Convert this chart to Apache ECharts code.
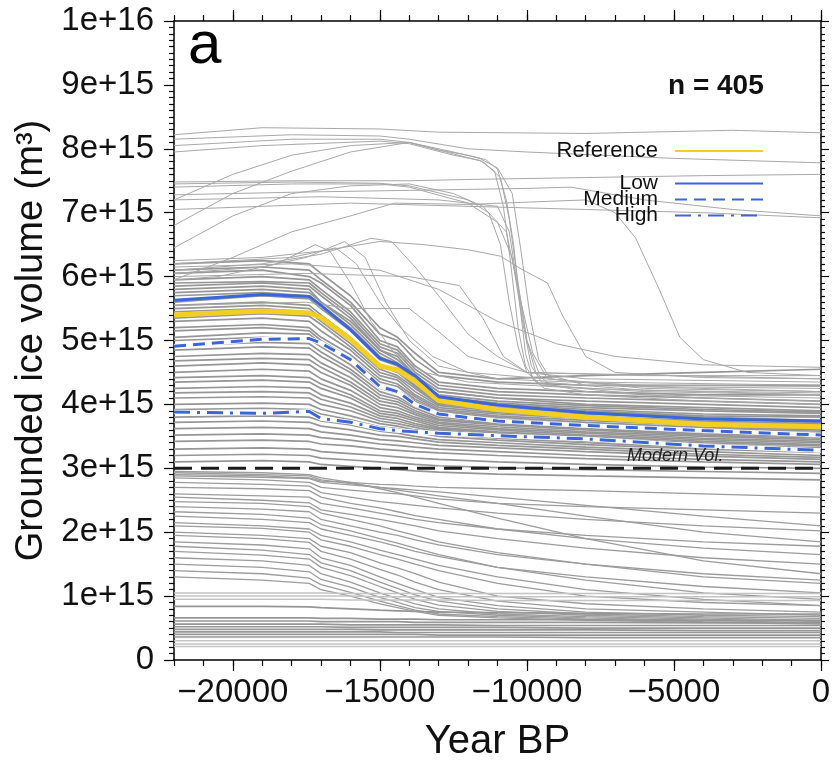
<!DOCTYPE html>
<html><head><meta charset="utf-8">
<script src="https://cdn.jsdelivr.net/npm/echarts@6/dist/echarts.min.js"></script>
<style>html,body{margin:0;padding:0;background:#fff}#c{width:834px;height:767px}</style>
</head><body><div id="c"></div>
<script>
// ---------- DATA (volumes in units of 1e15 m^3) ----------
const years = [-22000, -19000, -17400, -17000, -16000, -15000, -14400, -13800, -13000, -11000, -8000, -4000, 0];

const referenceRun = [5.40, 5.46, 5.43, 5.36, 5.02, 4.60, 4.54, 4.36, 4.06, 3.92, 3.80, 3.69, 3.65];
const lowRun       = [5.63, 5.72, 5.69, 5.55, 5.17, 4.72, 4.63, 4.45, 4.12, 3.99, 3.87, 3.77, 3.74];
const mediumRun    = [4.91, 5.02, 5.03, 4.96, 4.70, 4.28, 4.20, 4.00, 3.85, 3.74, 3.67, 3.59, 3.52];
const highRun      = [3.88, 3.86, 3.89, 3.78, 3.72, 3.62, 3.59, 3.57, 3.55, 3.51, 3.46, 3.35, 3.28];
const modernVol = 3.0;

// dense ensemble band (3–6.2e15 at LGM)
const bandRuns = [
 [6.20,6.25,6.20,6.05,5.70,5.20,5.05,4.80,4.50,4.40,4.45,4.50,4.55],
 [6.10,6.15,6.10,5.95,5.60,5.10,5.00,4.70,4.45,4.35,4.30,4.30,4.30],
 [6.05,6.10,6.00,5.90,5.55,5.00,4.90,4.60,4.35,4.25,4.20,4.15,4.15],
 [5.95,6.00,5.95,5.80,5.45,4.95,4.85,4.55,4.30,4.20,4.15,4.10,4.05],
 [5.90,5.92,5.90,5.75,5.40,4.90,4.80,4.50,4.25,4.15,4.10,4.05,4.00],
 [5.85,5.90,5.85,5.70,5.35,4.85,4.75,4.45,4.20,4.10,4.05,4.00,3.95],
 [5.80,5.85,5.80,5.60,5.30,4.85,4.70,4.45,4.20,4.10,4.00,3.95,3.90],
 [5.75,5.80,5.75,5.60,5.25,4.80,4.65,4.40,4.15,4.05,3.98,3.92,3.88],
 [5.70,5.75,5.70,5.55,5.20,4.75,4.62,4.38,4.12,4.02,3.95,3.90,3.86],
 [5.60,5.70,5.65,5.50,5.15,4.70,4.60,4.35,4.10,4.00,3.92,3.85,3.82],
 [5.55,5.60,5.55,5.40,5.05,4.62,4.52,4.30,4.05,3.98,3.90,3.82,3.80],
 [5.50,5.55,5.50,5.35,5.00,4.60,4.50,4.28,4.02,3.95,3.88,3.80,3.75],
 [5.45,5.50,5.45,5.30,4.95,4.55,4.45,4.25,4.00,3.92,3.85,3.78,3.72],
 [5.35,5.42,5.38,5.25,4.90,4.50,4.42,4.20,3.98,3.90,3.82,3.74,3.70],
 [5.30,5.35,5.30,5.15,4.85,4.45,4.38,4.15,3.95,3.87,3.80,3.72,3.68],
 [5.20,5.25,5.20,5.05,4.78,4.40,4.32,4.12,3.92,3.85,3.78,3.70,3.65],
 [5.15,5.20,5.15,5.00,4.72,4.35,4.28,4.08,3.90,3.82,3.75,3.67,3.62],
 [5.05,5.12,5.10,4.95,4.68,4.30,4.22,4.05,3.87,3.80,3.72,3.64,3.60],
 [5.00,5.05,5.02,4.90,4.62,4.25,4.18,4.00,3.84,3.77,3.70,3.62,3.58],
 [4.92,4.97,4.95,4.82,4.55,4.20,4.12,3.97,3.82,3.74,3.68,3.60,3.55],
 [4.85,4.90,4.88,4.75,4.50,4.15,4.08,3.94,3.80,3.72,3.65,3.57,3.52],
 [4.75,4.80,4.78,4.65,4.42,4.10,4.04,3.90,3.77,3.70,3.62,3.54,3.50],
 [4.68,4.72,4.70,4.58,4.35,4.05,4.00,3.87,3.75,3.68,3.60,3.52,3.47],
 [4.60,4.65,4.62,4.50,4.30,4.00,3.95,3.84,3.72,3.65,3.57,3.50,3.45],
 [4.50,4.55,4.52,4.40,4.22,3.95,3.90,3.80,3.70,3.62,3.55,3.47,3.42],
 [4.42,4.45,4.42,4.32,4.15,3.90,3.86,3.77,3.67,3.60,3.52,3.45,3.40],
 [4.35,4.38,4.35,4.25,4.10,3.86,3.82,3.74,3.64,3.57,3.50,3.42,3.37],
 [4.25,4.28,4.26,4.15,4.02,3.82,3.78,3.70,3.62,3.55,3.47,3.40,3.35],
 [4.18,4.20,4.18,4.08,3.96,3.78,3.74,3.67,3.60,3.52,3.45,3.37,3.32],
 [4.10,4.12,4.10,4.00,3.90,3.74,3.70,3.64,3.57,3.50,3.42,3.35,3.30],
 [4.00,4.02,4.00,3.92,3.82,3.70,3.66,3.60,3.54,3.47,3.40,3.32,3.27],
 [3.92,3.94,3.92,3.85,3.76,3.65,3.62,3.57,3.50,3.44,3.37,3.30,3.25],
 [3.80,3.82,3.80,3.74,3.68,3.58,3.55,3.50,3.45,3.40,3.33,3.26,3.20],
 [3.72,3.74,3.72,3.66,3.60,3.52,3.50,3.46,3.41,3.36,3.30,3.22,3.17],
 [3.62,3.64,3.62,3.57,3.52,3.45,3.43,3.40,3.36,3.32,3.26,3.19,3.14],
 [3.52,3.54,3.52,3.48,3.44,3.38,3.36,3.33,3.30,3.26,3.20,3.14,3.10],
 [3.42,3.44,3.42,3.38,3.35,3.30,3.28,3.26,3.24,3.20,3.15,3.10,3.06],
 [3.30,3.32,3.30,3.26,3.23,3.20,3.18,3.16,3.14,3.10,3.06,3.02,3.00],
 [3.20,3.22,3.20,3.16,3.13,3.10,3.08,3.06,3.04,3.01,2.98,2.95,2.92],
 [3.10,3.12,3.10,3.06,3.03,3.00,2.98,2.96,2.94,2.91,2.88,2.85,2.82]
];

// runs below modern volume
const lowerRuns = [
 [2.90,2.88,2.85,2.80,2.78,2.75,2.74,2.72,2.70,2.68,2.65,2.60,2.55],
 [2.85,2.82,2.78,2.70,2.66,2.62,2.60,2.57,2.52,2.45,2.40,2.35,2.30],
 [2.78,2.75,2.72,2.62,2.55,2.48,2.45,2.42,2.38,2.30,2.20,2.10,2.02],
 [2.70,2.68,2.65,2.55,2.45,2.38,2.32,2.26,2.20,2.05,1.90,1.75,1.65],
 [2.60,2.57,2.55,2.45,2.38,2.30,2.25,2.20,2.15,2.05,1.95,1.85,1.78],
 [2.55,2.50,2.46,2.35,2.28,2.20,2.15,2.10,2.02,1.90,1.75,1.60,1.50],
 [2.48,2.45,2.40,2.30,2.20,2.10,2.02,1.95,1.85,1.68,1.50,1.30,1.20],
 [2.40,2.36,2.32,2.20,2.10,2.00,1.95,1.88,1.80,1.65,1.50,1.35,1.25],
 [2.32,2.28,2.22,2.12,2.02,1.90,1.83,1.75,1.65,1.45,1.25,1.05,0.95],
 [2.25,2.20,2.15,2.05,1.95,1.85,1.78,1.70,1.62,1.45,1.30,1.15,1.05],
 [2.15,2.10,2.05,1.95,1.85,1.72,1.65,1.58,1.48,1.30,1.10,0.95,0.85],
 [2.10,2.06,2.00,1.88,1.78,1.65,1.58,1.50,1.40,1.20,1.00,0.90,0.85],
 [2.00,1.95,1.90,1.78,1.68,1.52,1.44,1.35,1.22,1.00,0.88,0.80,0.75],
 [1.95,1.90,1.84,1.70,1.58,1.42,1.33,1.22,1.10,0.92,0.80,0.75,0.70],
 [1.85,1.80,1.74,1.60,1.48,1.30,1.20,1.10,0.98,0.85,0.75,0.70,0.68],
 [1.78,1.72,1.65,1.52,1.40,1.22,1.12,1.02,0.92,0.80,0.72,0.68,0.65],
 [1.70,1.64,1.58,1.45,1.32,1.15,1.05,0.95,0.86,0.76,0.70,0.66,0.62],
 [1.60,1.55,1.48,1.35,1.22,1.05,0.96,0.88,0.80,0.72,0.68,0.64,0.60],
 [1.50,1.45,1.38,1.26,1.14,0.98,0.90,0.82,0.76,0.70,0.66,0.62,0.58],
 [1.40,1.35,1.28,1.18,1.06,0.92,0.85,0.78,0.72,0.68,0.64,0.60,0.57],
 [1.30,1.25,1.20,1.10,1.00,0.88,0.82,0.76,0.70,0.66,0.62,0.59,0.56],
 [2.95,2.93,2.90,2.85,2.78,2.68,2.62,2.55,2.45,2.22,1.90,1.55,1.35],
 [2.93,2.90,2.88,2.82,2.76,2.70,2.66,2.62,2.57,2.45,2.25,2.00,1.85],
 [2.88,2.86,2.84,2.78,2.74,2.70,2.68,2.66,2.63,2.55,2.42,2.25,2.10]
];

// near-flat runs of the smallest ice sheets
const floorRuns = [
 [1.05,1.05,1.05,1.05,1.04,1.04,1.04,1.04,1.04,1.04,1.04,1.04,1.04],
 [1.00,1.00,1.00,1.00,1.00,0.99,0.99,0.99,0.99,0.99,0.99,0.99,0.99],
 [0.95,0.95,0.95,0.95,0.94,0.94,0.94,0.94,0.94,0.93,0.93,0.93,0.93],
 [0.84,0.84,0.83,0.82,0.80,0.78,0.77,0.76,0.75,0.74,0.73,0.72,0.72],
 [0.66,0.66,0.66,0.65,0.65,0.64,0.64,0.64,0.63,0.63,0.63,0.62,0.62],
 [0.61,0.61,0.61,0.60,0.60,0.60,0.60,0.59,0.59,0.59,0.59,0.58,0.58],
 [0.56,0.56,0.56,0.56,0.55,0.55,0.55,0.55,0.55,0.54,0.54,0.54,0.54],
 [0.52,0.52,0.52,0.52,0.51,0.51,0.51,0.51,0.51,0.51,0.50,0.50,0.50],
 [0.48,0.48,0.48,0.48,0.48,0.47,0.47,0.47,0.47,0.47,0.47,0.46,0.46],
 [0.44,0.44,0.44,0.44,0.44,0.44,0.43,0.43,0.43,0.43,0.43,0.43,0.43],
 [0.40,0.40,0.40,0.40,0.40,0.40,0.40,0.40,0.39,0.39,0.39,0.39,0.39],
 [0.36,0.36,0.36,0.36,0.36,0.36,0.36,0.36,0.36,0.36,0.35,0.35,0.35],
 [0.30,0.30,0.30,0.30,0.30,0.30,0.30,0.30,0.30,0.30,0.30,0.30,0.30],
 [0.25,0.25,0.25,0.25,0.25,0.25,0.25,0.25,0.25,0.25,0.25,0.25,0.25],
 [0.21,0.21,0.21,0.21,0.21,0.21,0.21,0.21,0.21,0.21,0.21,0.21,0.21]
];

// large-ice runs and collapse runs, as [year, volume] pairs
const specialRuns = [
 [[-22000,8.22],[-19000,8.33],[-15000,8.31],[-13000,8.26],[-8000,8.24],[-3000,8.29],[0,8.25]],
 [[-22000,8.15],[-18000,8.22],[-15000,8.20],[-14000,8.15],[-12000,8.00],[-10000,7.95],[-5000,7.85],[0,7.78]],
 [[-22000,8.05],[-18000,8.15],[-15000,8.15],[-14000,8.10],[-13000,7.98],[-12000,7.90],[-11400,7.83],[-11000,7.68],[-10700,7.20],[-10450,6.50],[-10250,5.60],[-10050,4.80],[-9800,4.40],[-9400,4.25],[-8000,4.15],[-4000,4.05],[0,4.00]],
 [[-22000,7.95],[-19000,8.05],[-15000,8.12],[-14000,8.08],[-12500,7.90],[-11600,7.82],[-11100,7.65],[-10800,7.10],[-10550,6.20],[-10300,5.20],[-10050,4.60],[-9700,4.35],[-8000,4.20],[-4000,4.10],[0,4.05]],
 [[-22000,7.20],[-20000,7.60],[-18000,7.90],[-16000,8.05],[-14000,8.10],[-12500,7.92],[-11500,7.80],[-10900,7.55],[-10600,6.90],[-10300,5.90],[-10000,5.00],[-9700,4.50],[-9200,4.30],[-6000,4.15],[0,4.10]],
 [[-22000,6.80],[-20000,7.30],[-18000,7.65],[-16000,7.95],[-14000,8.10],[-12500,7.95],[-11600,7.85],[-11000,7.70],[-10500,7.30],[-10200,6.40],[-9900,5.40],[-9600,4.70],[-9200,4.40],[-6000,4.25],[0,4.20]],
 [[-22000,7.48],[-18000,7.50],[-14000,7.50],[-12000,7.52],[-8000,7.55],[-4000,7.58],[0,7.60]],
 [[-22000,7.45],[-18000,7.48],[-15000,7.46],[-14000,7.42],[-12000,7.20],[-11300,7.00],[-10900,6.50],[-10600,5.60],[-10300,4.90],[-10000,4.50],[-9500,4.30],[-6000,4.20],[0,4.15]],
 [[-22000,7.40],[-18000,7.45],[-15000,7.45],[-14000,7.40],[-12000,7.15],[-11000,6.85],[-10500,6.30],[-10150,5.30],[-9850,4.60],[-9500,4.35],[-6000,4.22],[0,4.18]],
 [[-22000,6.45],[-20000,6.95],[-18000,7.30],[-16000,7.42],[-14000,7.45],[-12500,7.30],[-11500,7.10],[-10700,6.70],[-10200,5.60],[-9800,4.80],[-9300,4.40],[-6000,4.28],[0,4.25]],
 [[-22000,7.28],[-18000,7.32],[-14000,7.35],[-10000,7.38],[-8500,7.40],[-6000,7.20],[-3000,7.05],[0,6.95]],
 [[-22000,5.95],[-20000,6.30],[-18000,6.70],[-16000,6.95],[-14500,7.15],[-12000,7.13],[-8000,7.20],[-7000,7.00],[-6300,6.60],[-5500,5.80],[-4800,5.05],[-4000,4.70],[-2500,4.50],[0,4.45]],
 [[-22000,7.20],[-17000,7.25],[-13000,7.20],[-11000,7.10],[-10600,6.70],[-10300,5.80],[-10000,5.00],[-9600,4.50],[-8000,4.30],[0,4.20]],
 [[-22000,7.05],[-19000,7.10],[-16000,7.15],[-12000,7.10],[-8000,7.05],[-4000,7.00],[0,6.92]]
];

// runs rising above the band before retreating
const humpRuns = [
 [[-22000,5.95],[-20500,6.00],[-18500,6.20],[-17200,6.50],[-16700,6.40],[-16000,5.90],[-15300,5.30],[-14500,4.80],[-13500,4.50],[-12000,4.35],[-8000,4.25],[0,4.15]],
 [[-22000,6.05],[-19000,6.15],[-17500,6.30],[-16200,6.55],[-15500,6.30],[-14800,5.60],[-14000,5.00],[-13000,4.60],[-11000,4.40],[-6000,4.30],[0,4.28]],
 [[-22000,6.10],[-19000,6.20],[-17000,6.35],[-15300,6.60],[-14600,6.55],[-13800,6.15],[-13000,5.70],[-12000,5.10],[-11000,4.75],[-10000,4.50],[-8000,4.40],[0,4.35]],
 [[-22000,6.25],[-19000,6.30],[-17000,6.40],[-15000,6.55],[-13500,6.50],[-12000,6.42],[-10900,6.32],[-10200,6.12],[-9300,5.90],[-8800,5.40],[-8000,4.75],[-7000,4.50],[-4000,4.42],[0,4.40]],
 [[-22000,6.00],[-17500,6.05],[-14000,6.00],[-12300,5.86],[-11500,5.35],[-10800,4.75],[-10000,4.50],[-6000,4.45],[0,4.45]],
 [[-22000,6.20],[-18000,6.30],[-16500,6.45],[-15800,6.20],[-15000,5.60],[-14300,5.20],[-13200,4.75],[-12000,4.50],[-8000,4.35],[0,4.30]],
 [[-22000,5.55],[-17500,5.60],[-16000,5.50],[-14000,5.50],[-12900,5.10],[-12000,4.75],[-10000,4.50],[0,4.40]],
 [[-22000,6.15],[-18000,6.20],[-15000,6.10],[-13000,5.80],[-11000,5.30],[-9000,4.95],[-7000,4.75],[-4000,4.62],[0,4.58]]
];

const xMajorTicks = [-20000, -15000, -10000, -5000, 0];
const yTickLabels = ['0','1e+15','2e+15','3e+15','4e+15','5e+15','6e+15','7e+15','8e+15','9e+15','1e+16'];
const ensembleSize = 405;

// ---------- CHART ----------
const FONT = "'Liberation Sans', Arial, Helvetica, sans-serif";
const onGrid = vals => years.map((x, i) => [x, vals[i]]);
const series = [];
function addLine(data, lineStyle, name, z) {
  series.push({ type: 'line', name: name || '', data, symbol: 'none', silent: true,
    animation: false, lineStyle, itemStyle: { color: lineStyle.color }, z: z || 2, emphasis: { disabled: true } });
}
const grayStyle = { color: '#969696', width: 1.7 };
const thinGray = { color: '#a8a8a8', width: 1 };
bandRuns.forEach(r => addLine(onGrid(r), grayStyle));
lowerRuns.forEach(r => addLine(onGrid(r), { color: '#9c9c9c', width: 1.3 }));
floorRuns.forEach((r, i) => addLine(onGrid(r), (i < 3 || i > 11) ? { color: '#c4c4c4', width: 1.5 } : grayStyle));
specialRuns.forEach(r => addLine(r, thinGray));
humpRuns.forEach(r => addLine(r, thinGray));

// modern volume reference line
addLine([[years[0], modernVol], [years[years.length - 1], modernVol]],
  { color: '#1a1a1a', width: 3, type: [18, 9] }, 'Modern', 3);

const BLUE = '#3b66d9';
addLine(onGrid(referenceRun), { color: '#f3cf22', width: 5 }, 'Reference', 4);
addLine(onGrid(lowRun), { color: BLUE, width: 3 }, 'Low', 4);
addLine(onGrid(mediumRun), { color: '#ffffff', width: 4.5 }, '', 4);
addLine(onGrid(mediumRun), { color: BLUE, width: 3, type: [12, 7] }, 'Medium', 4);
addLine(onGrid(highRun), { color: '#ffffff', width: 4.5 }, '', 4);
addLine(onGrid(highRun), { color: BLUE, width: 3, type: [16, 7, 3, 7] }, 'High', 4);

const axisLineStyle = { show: true, onZero: false, lineStyle: { color: '#000', width: 1.5 } };
const tickStyle = { color: '#000', width: 1.2 };
const xFmt = v => (v < 0 ? '\u2212' + Math.abs(v) : '0');
const xBase = { type: 'value', min: years[0], max: years[years.length - 1], gridIndex: 0, splitLine: { show: false } };

function legendFor(name, top, size) {
  return { data: [name], orient: 'vertical', right: 65, top, align: 'right', selectedMode: false,
    itemWidth: 88, itemHeight: 16, itemStyle: { opacity: 0 },
    textStyle: { fontSize: size, fontFamily: FONT, color: '#111', padding: [0, 12, 0, 0] } };
}

const option = {
  backgroundColor: '#fff',
  animation: false,
  grid: { left: 174, right: 13, top: 21, bottom: 91, containLabel: false },
  xAxis: [
    Object.assign({}, xBase, { position: 'bottom', interval: 1000, axisLine: axisLineStyle,
      axisTick: { show: true, length: 6, lineStyle: tickStyle }, axisLabel: { show: false } }),
    Object.assign({}, xBase, { position: 'bottom', axisLine: { show: false, onZero: false },
      axisTick: { show: true, length: 11, customValues: xMajorTicks, lineStyle: tickStyle },
      axisLabel: { show: true, customValues: xMajorTicks, formatter: xFmt, fontSize: 33, fontFamily: FONT, color: '#111', margin: 16 },
      name: 'Year BP', nameLocation: 'middle', nameGap: 62,
      nameTextStyle: { fontSize: 40, fontFamily: FONT, color: '#111' } }),
    Object.assign({}, xBase, { position: 'top', interval: 1000, axisLine: axisLineStyle,
      axisTick: { show: true, length: 6, lineStyle: tickStyle }, axisLabel: { show: false } }),
    Object.assign({}, xBase, { position: 'top', axisLine: { show: false, onZero: false },
      axisTick: { show: true, length: 11, customValues: xMajorTicks, lineStyle: tickStyle }, axisLabel: { show: false } })
  ],
  yAxis: [
    { type: 'value', min: 0, max: 10, interval: 1, position: 'left', axisLine: axisLineStyle,
      axisTick: { show: true, length: 10, lineStyle: tickStyle },
      minorTick: { show: true, splitNumber: 10, length: 5, lineStyle: tickStyle },
      splitLine: { show: false },
      axisLabel: { formatter: v => yTickLabels[Math.round(v)], fontSize: 33, fontFamily: FONT, color: '#111', margin: 20 },
      name: 'Grounded ice volume (m\u00B3)', nameLocation: 'middle', nameGap: 116,
      nameTextStyle: { fontSize: 38, fontFamily: FONT, color: '#111' } },
    { type: 'value', min: 0, max: 10, interval: 1, position: 'right', axisLine: axisLineStyle,
      axisTick: { show: true, length: 8, lineStyle: tickStyle },
      minorTick: { show: true, splitNumber: 10, length: 4, lineStyle: tickStyle },
      splitLine: { show: false }, axisLabel: { show: false } }
  ],
  legend: [
    legendFor('Reference', 135, 22),
    legendFor('Low', 168, 21),
    legendFor('Medium', 184, 21),
    legendFor('High', 200, 21)
  ],
  graphic: [
    { type: 'text', left: 188, top: 16, z: 10, style: { text: 'a', font: '60px ' + FONT, fill: '#000' } },
    { type: 'text', left: 668, top: 72, z: 10, style: { text: 'n = ' + ensembleSize, font: 'bold 28px ' + FONT, fill: '#111' } },
    { type: 'text', left: 627, top: 447, z: 10, style: { text: 'Modern Vol.', font: 'italic 18px ' + FONT, fill: '#222' } }
  ],
  series
};
echarts.init(document.getElementById('c'), null, { renderer: 'canvas' }).setOption(option);
</script></body></html>
